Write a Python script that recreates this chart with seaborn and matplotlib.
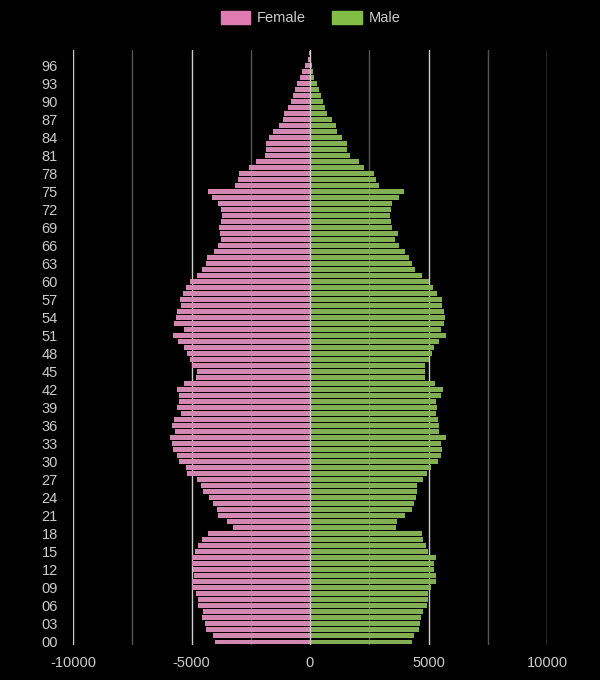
import matplotlib
matplotlib.use("Agg")
import matplotlib.pyplot as plt
import seaborn as sns
import pandas as pd
from matplotlib.patches import Patch

ages = list(range(0, 99))
# female counts, age 0 .. 98
female = [4010, 4090, 4390, 4430, 4560, 4510, 4730, 4730, 4810, 4980,
          4980, 4890, 4940, 4980, 4980, 4850, 4730, 4560, 4300, 3230,
          3500, 3880, 3920, 4090, 4260, 4510, 4600, 4770, 5190, 5230,
          5530, 5610, 5780, 5820, 5910, 5700, 5820, 5740, 5440, 5610,
          5530, 5530, 5610, 5320, 4810, 4770, 4980, 5060, 5190, 5320,
          5570, 5780, 5320, 5740, 5650, 5610, 5440, 5490, 5360, 5230,
          5060, 4770, 4560, 4390, 4350, 4050, 3880, 3760, 3800, 3840,
          3760, 3710, 3760, 3880, 4130, 4300, 3160, 3040, 3000, 2570,
          2280, 1900, 1860, 1860, 1730, 1560, 1310, 1140, 1100, 930,
          800, 720, 630, 550, 420, 340, 210, 90, 60]
# male counts, age 0 .. 98
male = [4300, 4390, 4600, 4640, 4680, 4770, 4940, 4980, 4980, 5110,
        5320, 5320, 5230, 5230, 5320, 4980, 4890, 4770, 4730, 3630,
        3670, 4010, 4300, 4390, 4470, 4510, 4510, 4770, 4940, 5110,
        5400, 5530, 5570, 5530, 5740, 5440, 5440, 5400, 5320, 5360,
        5320, 5530, 5610, 5270, 4850, 4850, 4850, 5020, 5150, 5230,
        5440, 5740, 5530, 5650, 5700, 5650, 5570, 5570, 5360, 5190,
        5020, 4730, 4430, 4300, 4180, 4010, 3760, 3590, 3710, 3460,
        3420, 3380, 3420, 3460, 3760, 3970, 2910, 2780, 2700, 2280,
        2070, 1690, 1560, 1560, 1350, 1140, 1100, 930, 720, 630,
        550, 465, 380, 295, 170, 125, 85, 30, 20]

tick_labels = ["%02d" % a for a in range(0, 97, 3)]
xticks = [-10000, -5000, 0, 5000, 10000]
minor_xticks = [-7500, -2500, 2500, 7500]

labels = ["%02d" % a for a in ages]
order = labels[::-1]
df = pd.DataFrame({
    "age": labels * 2,
    "value": [-v for v in female] + male,
    "sex": ["Female"] * len(ages) + ["Male"] * len(ages),
})

pink = "#E07BB2"
green = "#82BE45"
text_col = "#CCCCCC"

sns.set_theme(style="dark")
plt.rcParams["font.family"] = ["Liberation Sans", "DejaVu Sans"]

fig = plt.figure(figsize=(6, 6.8), dpi=100, facecolor="black")
ax = fig.add_axes([73 / 600, 1 - 645 / 680, (547 - 73) / 600, (645 - 50) / 680])
ax.set_facecolor("black")

sns.barplot(data=df, x="value", y="age", hue="sex", order=order,
            hue_order=["Female", "Male"], palette=[pink, green],
            dodge=False, width=0.83, orient="h", ax=ax, legend=False,
            linewidth=0, zorder=2)

ax.set_xlim(-10000, 10000)
ax.set_ylim(len(order) - 0.5, -0.5)

for x in minor_xticks:
    ax.axvline(x, color="#555555", lw=1, zorder=1)
for x in xticks:
    ax.axvline(x, color="#CCCCCC", lw=1, zorder=1 if x != 0 else 3)

ax.set_xticks(xticks)
ax.set_xticklabels([str(x) for x in xticks], color=text_col, fontsize=10.5)
ax.set_yticks([order.index(l) for l in tick_labels])
ax.set_yticklabels(tick_labels, color=text_col, fontsize=10.5)
ax.tick_params(axis="both", length=0)
ax.tick_params(axis="y", pad=10.8)
ax.tick_params(axis="x", pad=8)
ax.grid(False)
ax.set_xlabel("")
ax.set_ylabel("")
for s in ax.spines.values():
    s.set_visible(False)

handles = [Patch(color=pink, label="Female"), Patch(color=green, label="Male")]
leg = fig.legend(handles=handles, loc="center", bbox_to_anchor=(0.518, 1 - 18 / 680),
                 ncol=2, frameon=False, fontsize=10.5, handlelength=2.0,
                 handleheight=1.05, columnspacing=1.8, handletextpad=0.5)
for t in leg.get_texts():
    t.set_color(text_col)

fig.savefig("out.png", dpi=100, facecolor="black")
